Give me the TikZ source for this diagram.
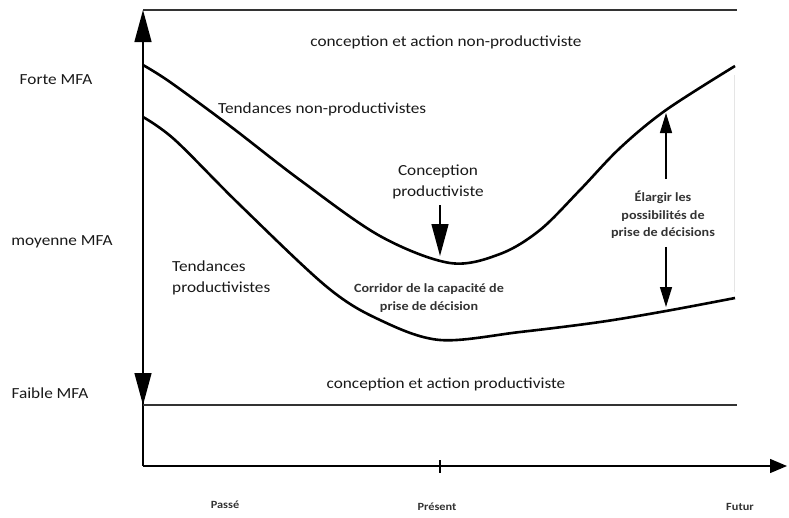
\documentclass[tikz,border=0pt]{standalone}
\usepackage{fontspec}
\setmainfont{Carlito}[FakeStretch=1.12]
\usetikzlibrary{arrows.meta}
\tikzset{
  lbl/.style={font=\fontsize{15.4}{21}\selectfont, inner sep=0pt, text=black!90},
  small/.style={font=\fontsize{12.6}{17.5}\selectfont\bfseries, inner sep=0pt, align=center, text=black!80},
  tiny/.style={font=\fontsize{11}{13}\selectfont\bfseries, inner sep=0pt, text=black!80},
  axis/.style={line width=1.4pt},
  curve/.style={line width=2.6pt, line join=round},
  bigtip/.style={-{Triangle[length=32pt, width=17pt]}},
  midtip/.style={line width=1.4pt, -{Triangle[length=20pt, width=12pt]}}
}
\begin{document}
\begin{tikzpicture}[x=1pt, y=-1pt]
\useasboundingbox (0,0) rectangle (789,517);
% axes
\coordinate (o) at (143,466);
\coordinate (ytop) at (143,10);
\coordinate (ymid) at (143,300);
\coordinate (ybot) at (143,405);
\coordinate (xend) at (787,466);
\coordinate (rtop) at (737,10);
\coordinate (rbot) at (737,405);
\draw[axis, bigtip] (o) -- (ytop);
\draw[axis, bigtip] (ymid) -- (ybot);
\draw[axis, -{Triangle[length=17pt, width=14pt]}] (o) -- (xend);
\draw[axis] (440,460) -- (440,473);
\draw[line width=1.6pt, black!80] (ytop) -- (rtop);
\draw[line width=1.6pt, black!80] (ybot) -- (rbot);
\draw[black!10, line width=0.8pt] (734,75) -- (734,292);
% corridor
\draw[curve] plot [smooth, tension=0.55] coordinates {(143,65) (170,82) (230,126) (300,180) (380,236) (450,263) (500,254) (540,230) (580,190) (620,148) (666,110) (735,66)};
\draw[curve] plot [smooth, tension=0.55] coordinates {(143,117) (175,140) (240,205) (327,287) (380,320) (440,340) (520,332) (600,322) (666,311) (735,298)};
% levels
\node[lbl] (forte) at (56,80) {Forte MFA};
\node[lbl] (moyenne) at (62,242) {moyenne MFA};
\node[lbl] (faible) at (50,393) {Faible MFA};
\node[lbl] (nonprod) at (446,42) {conception et action non-productiviste};
\node[lbl] (prod) at (446,384) {conception et action productiviste};
\node[lbl, anchor=west] (tendnp) at (218,109) {Tendances non-productivistes};
\node[lbl, align=left, anchor=west] (tendp) at (172,278) {Tendances\\productivistes};
\node[lbl, align=center] (concep) at (438,182) {Conception\\productiviste};
\coordinate (cmin) at (440,256);
\draw[axis, bigtip] (concep.south -| cmin) ++(0,6) -- (cmin);
\node[small] (corridor) at (429,298) {Corridor de la capacité de\\prise de décision};
\node[small] (elargir) at (663,215) {Élargir les\\possibilités de\\prise de décisions};
\coordinate (eup) at (666,113);
\coordinate (edown) at (666,307);
\draw[midtip] (elargir.north -| eup) ++(0,-12) -- (eup);
\draw[midtip] (elargir.south -| edown) ++(0,8) -- (edown);
% time
\node[tiny] (passe) at (225,505) {Passé};
\node[tiny] (present) at (437,507) {Présent};
\node[tiny] (futur) at (740,507) {Futur};
\end{tikzpicture}
\end{document}
